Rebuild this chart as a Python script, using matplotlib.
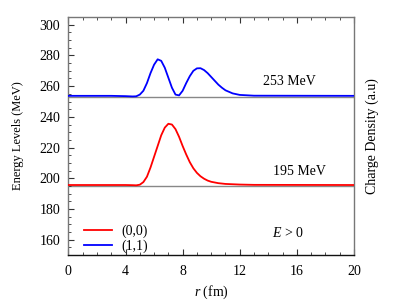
import matplotlib
matplotlib.use("Agg")
import matplotlib.pyplot as plt
from matplotlib.ticker import MultipleLocator

# Data
r_red = [0, 3, 4.0, 4.5, 4.75, 5.0, 5.25, 5.5, 5.75, 6.0, 6.25, 6.5, 6.75, 7.0, 7.25, 7.5,
         7.75, 8.0, 8.25, 8.5, 8.75, 9.0, 9.25, 9.5, 9.75, 10.0, 10.5, 11.0, 12.0, 13.0, 20]
e_red = [195.6, 195.6, 195.6, 195.5, 195.4, 195.8, 197.5, 201.0, 207.0, 214.0, 221.0, 228.0,
         233.0, 235.5, 235.0, 232.0, 227.0, 221.0, 215.5, 210.5, 206.5, 203.5, 201.3, 199.7,
         198.5, 197.7, 196.8, 196.3, 195.9, 195.7, 195.6]

r_blue = [0, 3, 4.0, 4.5, 4.75, 5.0, 5.25, 5.5, 5.75, 6.0, 6.25, 6.5, 6.75, 7.0, 7.25, 7.5,
          7.75, 8.0, 8.25, 8.5, 8.75, 9.0, 9.25, 9.5, 9.75, 10.0, 10.25, 10.5, 10.75, 11.0,
          11.5, 12.0, 13.0, 20]
e_blue = [253.7, 253.7, 253.5, 253.3, 253.4, 254.5, 257.0, 262.0, 268.5, 274.0, 277.5, 276.5,
          272.0, 265.5, 259.0, 254.5, 254.0, 257.0, 262.0, 266.5, 270.0, 271.6, 271.7, 270.5,
          268.5, 266.0, 263.5, 261.0, 259.0, 257.3, 255.3, 254.3, 253.8, 253.7]

levels = [195, 253]
legend_labels = ["(0,0)", "(1,1)"]
level_texts = ["195 MeV", "253 MeV"]

plt.rcParams['font.family'] = ['Liberation Serif', 'DejaVu Serif']
plt.rcParams['mathtext.fontset'] = 'custom'
plt.rcParams['mathtext.it'] = 'Liberation Serif:italic'
plt.rcParams['mathtext.rm'] = 'Liberation Serif'

FS = 10

fig = plt.figure(figsize=(4, 3), dpi=100)
ax = fig.add_axes([0.171, 0.15, 0.714, 0.793])

for lv in levels:
    ax.axhline(lv, color='#888888', lw=1.0, zorder=1)
ax.plot(r_red, e_red, color='#ff0000', lw=1.3, label=legend_labels[0], zorder=3)
ax.plot(r_blue, e_blue, color='#0000ff', lw=1.3, label=legend_labels[1], zorder=3)

ax.set_xlim(0, 20)
ax.set_ylim(150, 305)
ax.xaxis.set_major_locator(MultipleLocator(4))
ax.xaxis.set_minor_locator(MultipleLocator(1))
ax.set_yticks([160, 180, 200, 220, 240, 260, 280, 300])
ax.yaxis.set_minor_locator(MultipleLocator(5))
ax.tick_params(which='both', direction='in', top=True, right=False, labelsize=FS,
               color='#333333')
ax.tick_params(which='major', length=4, width=0.8)
ax.tick_params(which='minor', length=2, width=0.6)
ax.tick_params(axis='x', which='major', pad=7)
ax.tick_params(axis='y', which='major', pad=6)

for side in ['left', 'top', 'right']:
    ax.spines[side].set_color('#777777')
ax.spines['bottom'].set_color('#111111')
for s in ax.spines.values():
    s.set_linewidth(1.0)

ax.set_xlabel(r'$r$ (fm)', fontsize=FS, labelpad=4)
ax.set_ylabel('Energy Levels (MeV)', fontsize=9, labelpad=11)
ax2 = ax.twinx()
ax2.set_yticks([])
for s in ax2.spines.values():
    s.set_visible(False)
ax2.set_ylabel('Charge Density (a.u)', fontsize=FS, labelpad=8)

ax.text(16.2, 204.2, level_texts[0], fontsize=FS, ha='center', va='center')
ax.text(15.5, 262.9, level_texts[1], fontsize=FS, ha='center', va='center')
ax.text(15.4, 164.5, r'$E$ > 0', fontsize=FS, ha='center', va='center')

ax.legend(loc='lower left', frameon=False, fontsize=FS, handlelength=2.0,
          borderaxespad=0.0, borderpad=0.0, labelspacing=0.12, handletextpad=0.7,
          bbox_to_anchor=(0.055, 0.008))

fig.savefig('out.png', dpi=100)
